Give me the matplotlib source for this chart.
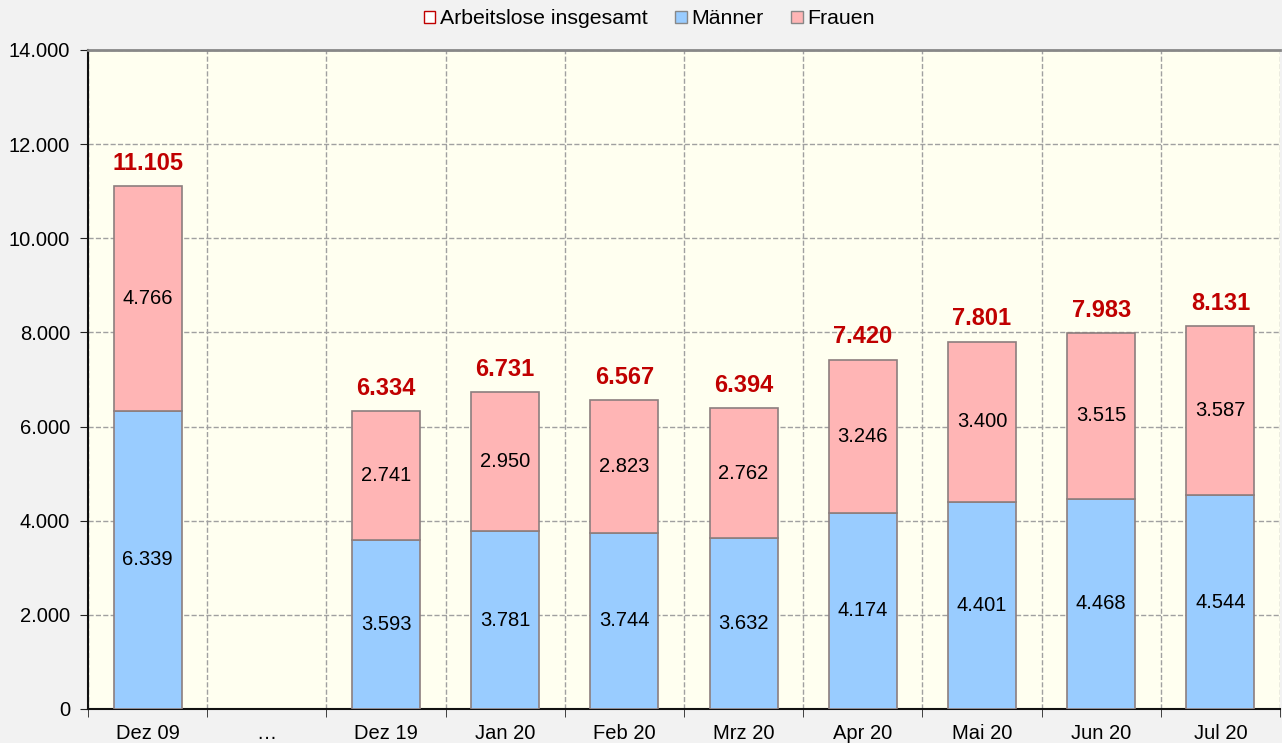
import numpy as np
import matplotlib.pyplot as plt
from matplotlib.patches import Patch
from matplotlib.ticker import FuncFormatter, MultipleLocator

categories = ['Dez 09', '…', 'Dez 19', 'Jan 20', 'Feb 20', 'Mrz 20', 'Apr 20', 'Mai 20', 'Jun 20', 'Jul 20']
maenner = [6339, np.nan, 3593, 3781, 3744, 3632, 4174, 4401, 4468, 4544]
frauen = [4766, np.nan, 2741, 2950, 2823, 2762, 3246, 3400, 3515, 3587]
insgesamt = [11105, np.nan, 6334, 6731, 6567, 6394, 7420, 7801, 7983, 8131]

def de(v):
    return f'{int(round(v)):,}'.replace(',', '.')

plt.rcParams['font.family'] = ['Liberation Sans', 'DejaVu Sans']

fig = plt.figure(figsize=(12.82, 7.43), dpi=100, facecolor='#F2F2F2')
ax = fig.add_axes([88 / 1282, 34 / 743, 1192 / 1282, 659 / 743])
ax.set_facecolor('#FFFFF0')

x = np.arange(len(categories))
w = 0.57
blue = '#99CCFF'
pink = '#FFB5B5'
edge = '#8C7E7E'

ax.bar(x, maenner, w, color=blue, edgecolor=edge, linewidth=1.2, zorder=3)
ax.bar(x, frauen, w, bottom=maenner, color=pink, edgecolor=edge, linewidth=1.2, zorder=3)

for i in range(len(categories)):
    if np.isnan(insgesamt[i]):
        continue
    ax.text(x[i], maenner[i] / 2, de(maenner[i]), ha='center', va='center', fontsize=14.5, zorder=4)
    ax.text(x[i], maenner[i] + frauen[i] / 2, de(frauen[i]), ha='center', va='center', fontsize=14.5, zorder=4)
    ax.text(x[i], insgesamt[i] + 240, de(insgesamt[i]), ha='center', va='bottom', fontsize=17,
            fontweight='bold', color='#C00000', zorder=4)

ax.set_xlim(-0.5, len(categories) - 0.5)
ax.set_ylim(0, 14000)
ax.yaxis.set_major_locator(MultipleLocator(2000))
ax.yaxis.set_major_formatter(FuncFormatter(lambda v, p: de(v)))
ax.set_xticks(x)
ax.set_xticklabels(categories, fontsize=14.5)
ax.set_xticks(np.arange(-0.5, len(categories)), minor=True)
ax.tick_params(axis='x', which='major', length=0, pad=11)
ax.tick_params(axis='x', which='minor', length=6, direction='out', color='#222222')
ax.tick_params(axis='y', labelsize=14.5, length=6, pad=7, direction='out', color='#222222')

ax.grid(axis='y', which='major', linestyle='--', color='#A0A0A0', linewidth=1, zorder=0)
ax.grid(axis='x', which='minor', linestyle='--', color='#A0A0A0', linewidth=1, zorder=0)

ax.spines['left'].set_color('#111111')
ax.spines['bottom'].set_color('#111111')
ax.spines['left'].set_linewidth(1.5)
ax.spines['bottom'].set_linewidth(1.5)
ax.spines['top'].set_color('#888888')
ax.spines['top'].set_linewidth(2)
ax.spines['right'].set_visible(False)

handles = [Patch(facecolor='white', edgecolor='#C00000', label='Arbeitslose insgesamt'),
           Patch(facecolor=blue, edgecolor='#888888', label='Männer'),
           Patch(facecolor=pink, edgecolor='#888888', label='Frauen')]
fig.legend(handles=handles, loc='center', bbox_to_anchor=(649 / 1282, 1 - 19 / 743), ncol=3, frameon=False,
           fontsize=15.3, handlelength=0.55, handleheight=0.55, handletextpad=0.2, columnspacing=1.3)

fig.savefig('out.png', dpi=100, facecolor=fig.get_facecolor())
